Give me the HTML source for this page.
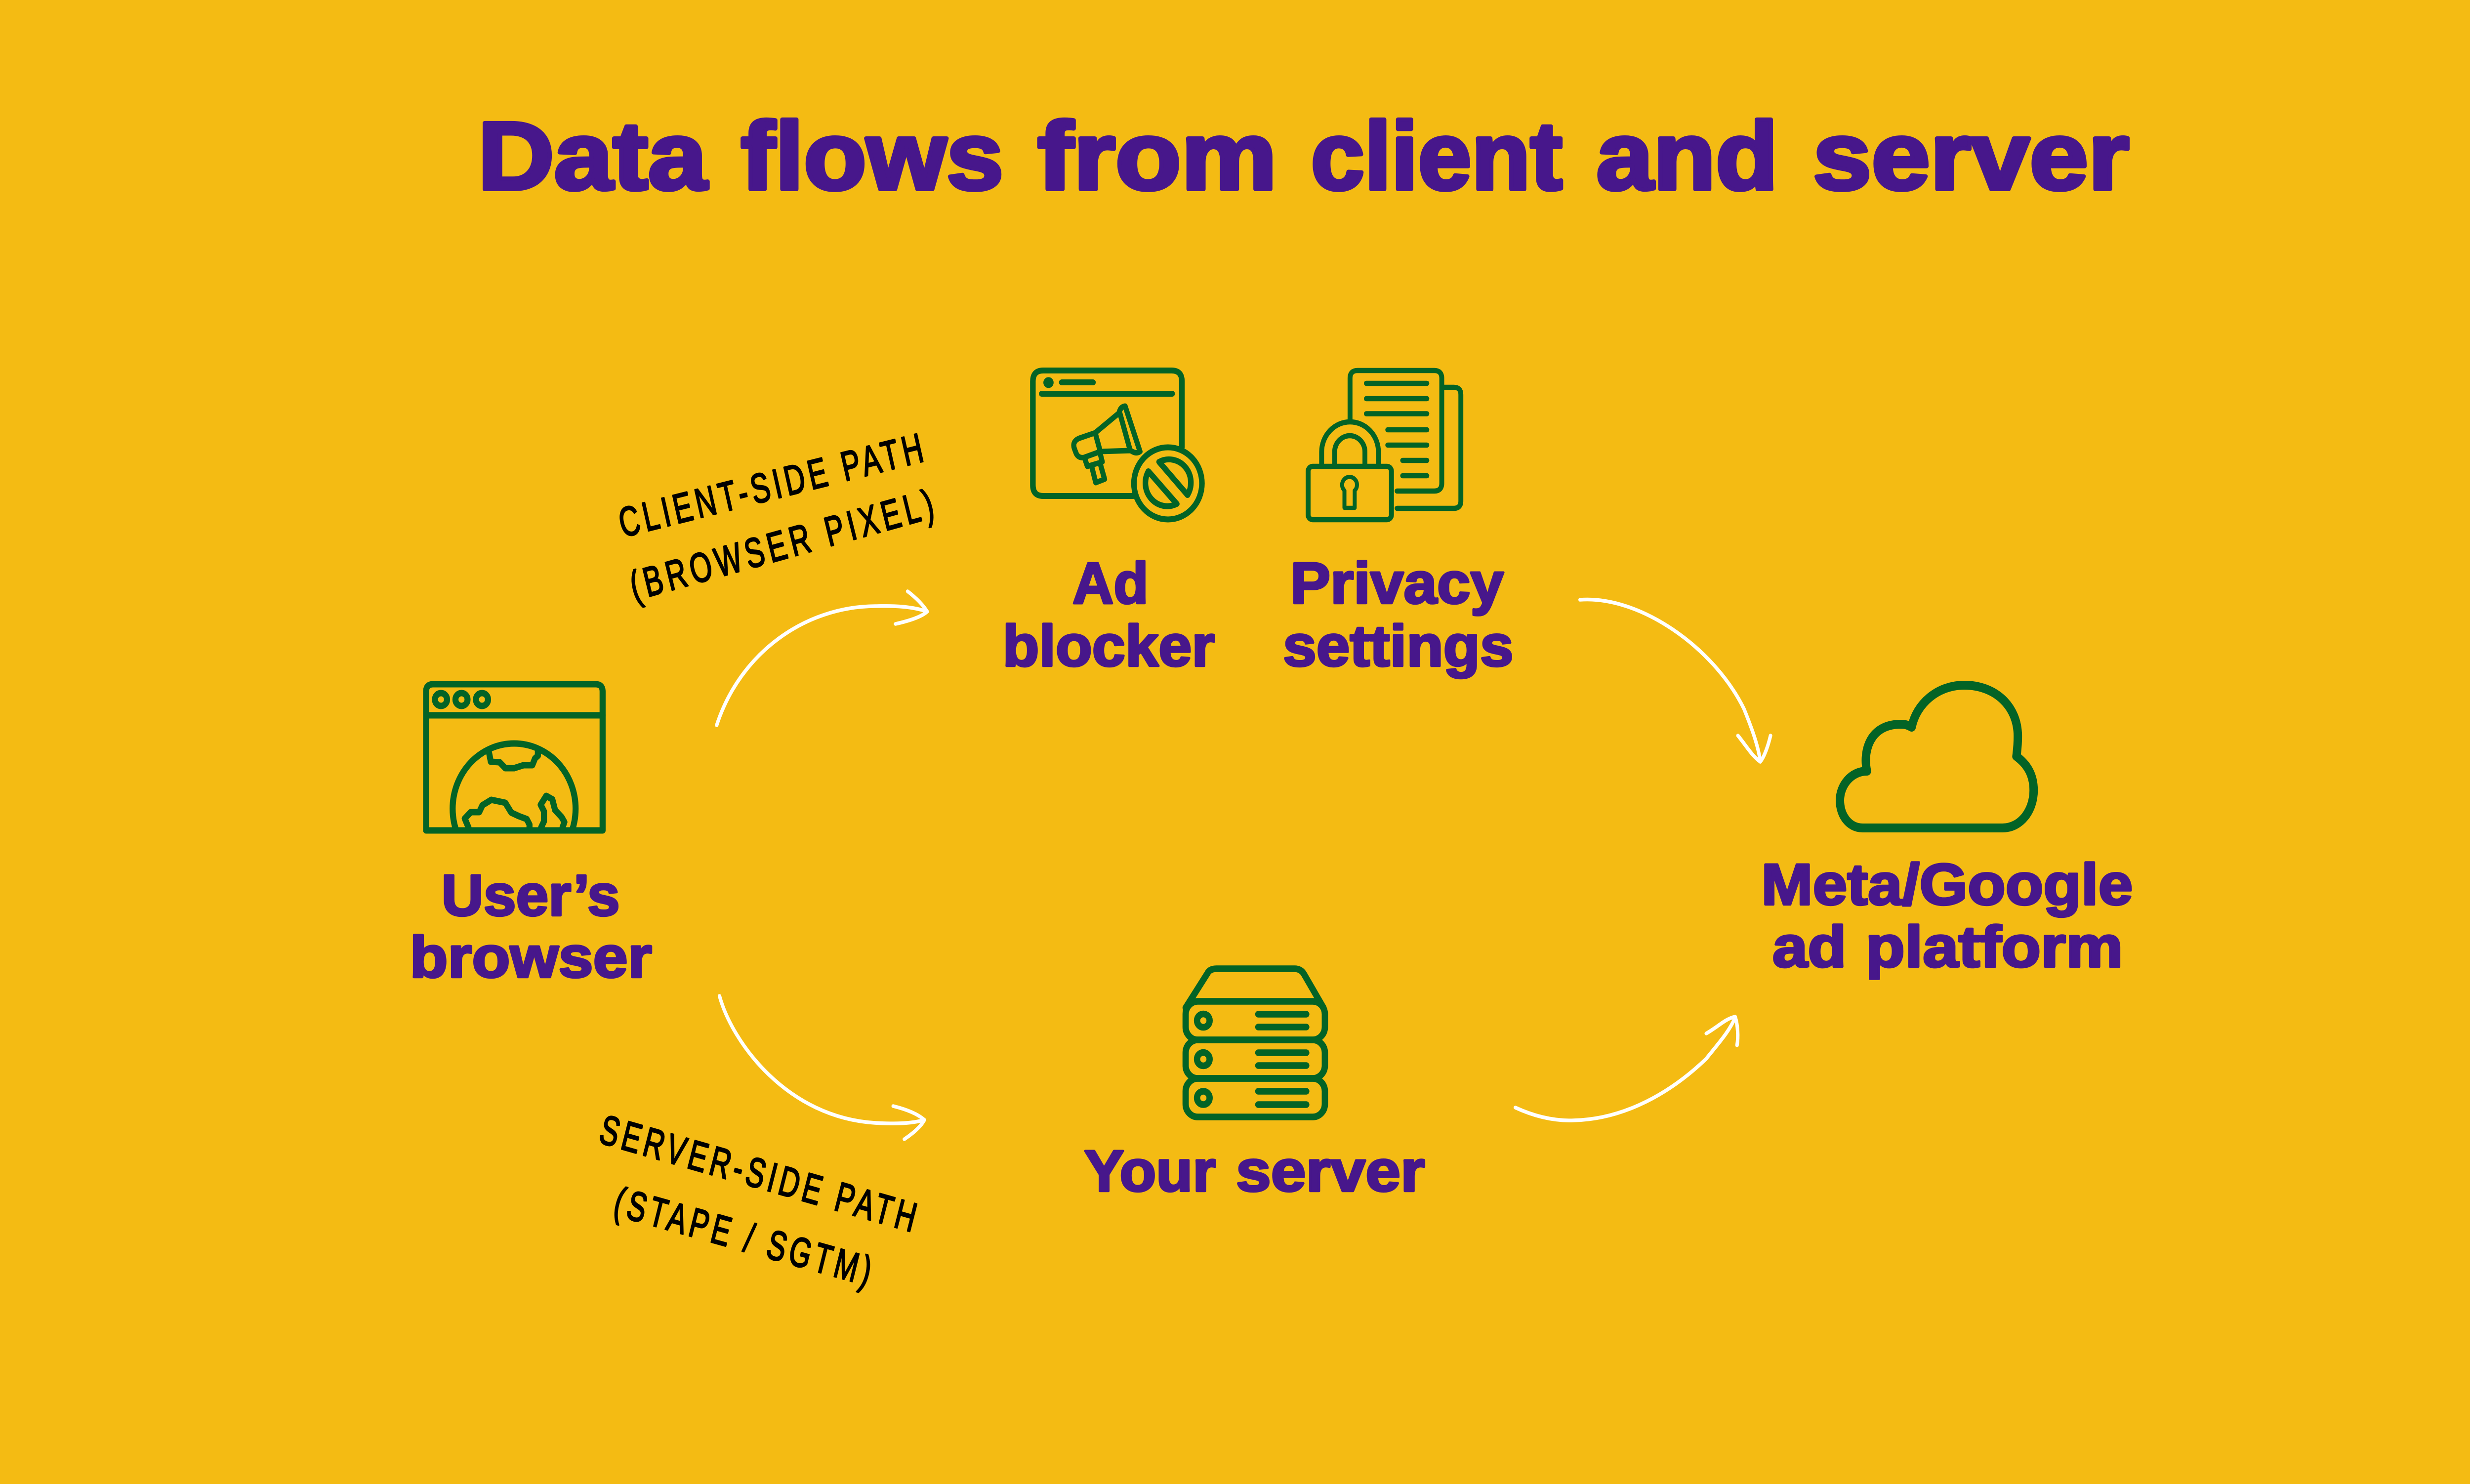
<!DOCTYPE html>
<html lang="en"><head><meta charset="utf-8"><title>Data flows from client and server</title>
<style>
html,body{margin:0;padding:0;width:100%;height:100%;overflow:hidden;background:#F4BB13}
svg{display:block;position:absolute;left:0;top:0;width:100vw;height:100vh}
.t{font-family:"Liberation Sans",sans-serif;font-weight:700;fill:#47178B;stroke:#47178B;stroke-linejoin:round}
.h{font-size:195px;stroke-width:8}
.l{font-size:118px;stroke-width:4.500}
.n{font-family:"Liberation Sans",sans-serif;font-weight:400;fill:#000;stroke:#000;stroke-width:3;font-size:84px;stroke-linejoin:round}
.g{fill:none;stroke:#036326;stroke-linecap:round;stroke-linejoin:round}
.a{fill:none;stroke:#fff;stroke-width:7.5;stroke-linecap:round;stroke-linejoin:round}
</style></head>
<body>
<svg xmlns="http://www.w3.org/2000/svg" viewBox="0 0 5304 3004" preserveAspectRatio="none">
<defs><clipPath id="w"><rect x="915" y="1385" width="379" height="296"/></clipPath></defs>
<rect width="5304" height="3004" fill="#F4BB13"/>

<!-- title -->
<text class="t h" x="1026" y="383" textLength="492" lengthAdjust="spacingAndGlyphs">Data</text>
<text class="t h" x="1591" y="383" textLength="564" lengthAdjust="spacingAndGlyphs">flows</text>
<text class="t h" x="2228" y="383" textLength="514" lengthAdjust="spacingAndGlyphs">from</text>
<text class="t h" x="2815" y="383" textLength="540" lengthAdjust="spacingAndGlyphs">client</text>
<text class="t h" x="3428" y="383" textLength="390" lengthAdjust="spacingAndGlyphs">and</text>
<text class="t h" x="3893" y="383" textLength="679" lengthAdjust="spacingAndGlyphs">server</text>

<!-- labels -->
<text class="t l" x="948" y="1853" textLength="383" lengthAdjust="spacingAndGlyphs">User’s</text>
<text class="t l" x="880" y="1978" textLength="520" lengthAdjust="spacingAndGlyphs">browser</text>
<text class="t l" x="2303" y="1221" textLength="163" lengthAdjust="spacingAndGlyphs">Ad</text>
<text class="t l" x="2153" y="1348" textLength="456" lengthAdjust="spacingAndGlyphs">blocker</text>
<text class="t l" x="2771" y="1221" textLength="458" lengthAdjust="spacingAndGlyphs">Privacy</text>
<text class="t l" x="2755" y="1348" textLength="495" lengthAdjust="spacingAndGlyphs">settings</text>
<text class="t l" x="2328" y="2411" textLength="283" lengthAdjust="spacingAndGlyphs">Your</text>
<text class="t l" x="2654" y="2411" textLength="406" lengthAdjust="spacingAndGlyphs">server</text>
<text class="t l" x="3782" y="1831" textLength="798" lengthAdjust="spacingAndGlyphs">Meta/Google</text>
<text class="t l" x="3806" y="1957" textLength="159" lengthAdjust="spacingAndGlyphs">ad</text>
<text class="t l" x="4006" y="1957" textLength="553" lengthAdjust="spacingAndGlyphs">platform</text>

<!-- handwritten notes -->
<text class="n" x="0" y="0" textLength="928" lengthAdjust="spacing" transform="translate(1337 1088) rotate(-13.4) scale(.72 1)">CLIENT-SIDE PATH</text>
<text class="n" x="0" y="0" textLength="930" lengthAdjust="spacing" transform="translate(1362 1216) rotate(-14.7) scale(.72 1)">(BROWSER PIXEL)</text>
<text class="n" x="0" y="0" textLength="972" lengthAdjust="spacing" transform="translate(1283 2312) rotate(15.1) scale(.72 1)">SERVER-SIDE PATH</text>
<text class="n" x="0" y="0" textLength="788" lengthAdjust="spacing" transform="translate(1314 2458) rotate(14.8) scale(.72 1)">(STAPE / SGTM)</text>

<!-- arrows -->
<path class="a" d="M1539 1468C1590 1320 1730 1228 1879 1227C1925 1226 1960 1228 1991 1238"/>
<path class="a" d="M1949 1197Q1978 1218 1991 1238Q1975 1252 1923 1263"/>
<path class="a" d="M1545 2016C1572 2110 1690 2262 1879 2273C1920 2275 1955 2275 1985 2267"/>
<path class="a" d="M1918 2239Q1965 2250 1985 2267Q1975 2285 1942 2306"/>
<path class="a" d="M3393 1214C3520 1205 3680 1310 3745 1435C3760 1470 3776 1510 3780 1542"/>
<path class="a" d="M3732 1489C3750 1510 3762 1530 3780 1542C3790 1530 3798 1505 3802 1489"/>
<path class="a" d="M3254 2242C3300 2262 3340 2269 3378 2268C3490 2266 3590 2210 3664 2143C3690 2112 3712 2090 3726 2060"/>
<path class="a" d="M3664 2092C3690 2078 3705 2062 3726 2058C3732 2075 3733 2100 3730 2116"/>

<!-- browser icon -->
<g class="g" stroke-width="13">
<path d="M915 1681V1400Q915 1385 930 1385H1279Q1294 1385 1294 1400V1681Z"/>
<path d="M915 1448H1294"/>
<circle cx="947" cy="1416" r="13"/><circle cx="991" cy="1416" r="13"/><circle cx="1035" cy="1416" r="13"/>
<circle cx="1104" cy="1637" r="132" clip-path="url(#w)"/>
<path d="M1050 1523L1054 1542L1073 1543L1085 1555H1104L1124 1549H1143L1149 1535L1155 1530V1520"/>
<path d="M1006 1675L998 1657L1011 1644H1029L1036 1630L1055 1619L1085 1625L1098 1645L1114 1652L1131 1658L1137 1669V1675"/>
<path d="M1162 1675L1168 1663V1642L1161 1629L1173 1611L1186 1618L1192 1640L1206 1654L1212 1664L1208 1675"/>
</g>

<!-- ad blocker icon -->
<g class="g" stroke-width="12">
<path d="M2538 905V772Q2538 750 2516 750H2240Q2218 750 2218 772V982Q2218 1004 2240 1004H2433"/>
<circle cx="2251.500" cy="774.500" r="5" fill="#036326"/>
<path d="M2280 774H2347M2237 797H2517"/>
<circle cx="2508" cy="978.500" r="73"/>
<path d="M2489 935A47 47 0 0 1 2550 1002Z"/>
<path d="M2527 1020A47 47 0 0 1 2466 954Z"/>
<path stroke-width="11" d="M2352 876L2318 887Q2302 893 2307 908L2311 918Q2316 928 2328 926L2363 914L2428 912Q2440 920 2448 914L2416 822Q2406 823 2403 836Z"/>
<path stroke-width="11" d="M2352 877L2363 915M2405 837L2427 912"/>
<path stroke-width="11" d="M2330 930L2335 944L2367 935L2363 920"/>
<path stroke-width="11" d="M2345 947L2353 977L2372 970L2363 940"/>
</g>

<!-- privacy icon -->
<g class="g" stroke-width="10.500">
<path d="M2899 852V766Q2899 750 2915 750H3080Q3096 750 3096 766V978Q3096 994 3080 994H3000"/>
<path d="M3101 784H3122Q3137 784 3137 799V1014Q3137 1029 3122 1029H3000"/>
<path d="M2934 776H3064M2934 807H3064M2934 837.500H3064M2980 870H3064M2980 901H3064M3012 932H3064M3012 963H3064"/>
<rect x="2809" y="944" width="179" height="108" rx="10"/>
<path d="M2838 944V915A61 61 0 0 1 2960 915V944"/>
<path d="M2866 944V915A32.500 33 0 0 1 2931 915V944"/>
<path stroke-width="8.500" d="M2887 1028H2909V993A16 16 0 1 0 2887 993Z"/>
</g>

<!-- server icon -->
<g class="g" stroke-width="13.500">
<path d="M2546 2040L2593 1970Q2598 1961 2612 1961H2780Q2792 1961 2799 1970L2842 2040"/>
<rect x="2546" y="2027" width="299" height="78" rx="26"/>
<rect x="2546" y="2105" width="299" height="78" rx="26"/>
<rect x="2546" y="2183" width="299" height="78" rx="26"/>
<circle cx="2584" cy="2066" r="13.500"/><circle cx="2584" cy="2144" r="13.500"/><circle cx="2584" cy="2222.500" r="13.500"/>
<path d="M2702 2053H2805M2702 2079H2805M2702 2131H2805M2702 2157H2805M2702 2209H2805M2702 2236H2805"/>
</g>

<!-- cloud icon -->
<path class="g" stroke-width="18" d="M4000 1676C3970 1676 3951 1650 3951 1620C3951 1590 3975 1561 4009 1561C4000 1520 4015 1466 4082 1466Q4095 1466 4105 1472C4115 1425 4160 1387 4218 1387C4285 1387 4333 1430 4333 1490Q4333 1510 4330 1531C4350 1545 4367 1565 4367 1600C4367 1640 4340 1676 4300 1676Z"/>
</svg>
</body></html>
